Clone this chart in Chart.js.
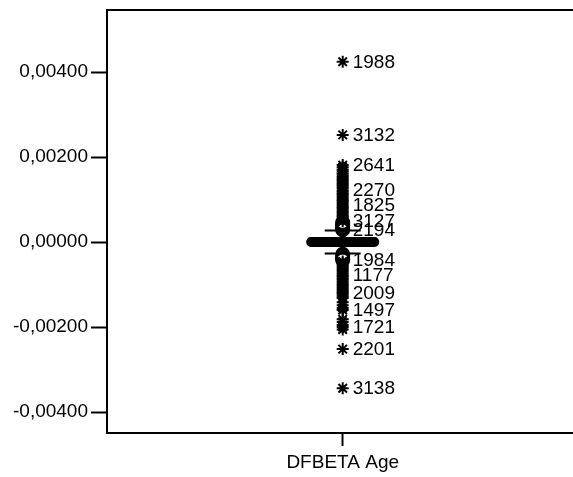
<!DOCTYPE html>
<html>
<head>
<meta charset="utf-8">
<script src="https://cdn.jsdelivr.net/npm/chart.js@4/dist/chart.umd.min.js"></script>
<style>
html,body{margin:0;padding:0;background:#fff;overflow:hidden;width:573px;height:477px;}
canvas{display:block;}
</style>
</head>
<body>
<canvas id="c" width="581" height="477"></canvas>
<script>
// ---- data ----
const categories = ['DFBETA Age'];
const quartiles = [-0.00001, 0, 0.00001];   // Q1, median, Q3
const whiskers = [-0.00027, 0.00027];       // lower, upper whisker ends
const outlierValues = [0.00046, 0.00042, 0.00039, 0.00035, 0.00031, 0.00029,
  -0.00029, -0.00032, -0.00036, -0.00040, -0.00042];
const extremeValues = [0.00424, 0.00252, 0.00181, 0.00176, 0.00170, 0.00166, 0.00161,
  0.00157, 0.00153, 0.00149, 0.00146, 0.00142, 0.00138, 0.00135, 0.00131, 0.00127,
  0.00122, 0.00118, 0.00114, 0.00111, 0.00107, 0.00103, 0.00099, 0.00096, 0.00092,
  0.00087, 0.00083, 0.00080, 0.00076, 0.00072, 0.00069, 0.00065, 0.00061, 0.00058,
  0.00054, 0.00049,
  -0.00046, -0.00050, -0.00054, -0.00058, -0.00062, -0.00066, -0.00070, -0.00074,
  -0.00078, -0.00081, -0.00085, -0.00089, -0.00093, -0.00097, -0.00101, -0.00105,
  -0.00109, -0.00113, -0.00117, -0.00120, -0.00124, -0.00128, -0.00132, -0.00142,
  -0.00149, -0.00155, -0.00160, -0.00182, -0.00188, -0.00195, -0.00200, -0.00206,
  -0.00252, -0.00344];
const labelIds = ['1988', '3132', '2641', '2270', '1825', '3127', '2194', '1984',
  '1177', '2009', '1497', '1721', '2201', '3138'];
const labelValues = [0.00424, 0.00252, 0.00181, 0.00122, 0.00087, 0.00049, 0.00029,
  -0.00042, -0.00078, -0.00120, -0.00160, -0.00200, -0.00252, -0.00344];
const yTickValues = [-0.004, -0.002, 0, 0.002, 0.004];
const yTickLabels = ['-0,00400', '-0,00200', '0,00000', '0,00200', '0,00400'];

// ---- layout constants (not data) ----
const X_MIN = -1, X_MAX = 0.975, PLOT_W = 466;
const pxToX = px => px / PLOT_W * (X_MAX - X_MIN);
const boxHalf = pxToX(32);
const capHalf = pxToX(18);
const FONT = "'Liberation Sans', Arial, sans-serif";

const [q1, med, q3] = quartiles;
const datasets = [
  { // box + median (very thin box drawn as thick bar)
    type: 'line',
    data: [{x: -boxHalf, y: q1}, {x: boxHalf, y: q1}, {x: boxHalf, y: q3}, {x: -boxHalf, y: q3}, {x: -boxHalf, y: q1}],
    borderColor: '#000', backgroundColor: '#000', borderWidth: 9,
    borderCapStyle: 'round', borderJoinStyle: 'round', pointRadius: 0, fill: false
  },
  { type: 'line', data: [{x: -boxHalf, y: med}, {x: boxHalf, y: med}],
    borderColor: '#000', borderWidth: 3, pointRadius: 0 },
  { // whisker stem
    type: 'line', data: [{x: 0, y: whiskers[0]}, {x: 0, y: whiskers[1]}],
    borderColor: '#000', borderWidth: 2, pointRadius: 0 },
  { type: 'line', data: [{x: -capHalf, y: whiskers[1]}, {x: capHalf, y: whiskers[1]}],
    borderColor: '#000', borderWidth: 2, pointRadius: 0 },
  { type: 'line', data: [{x: -capHalf, y: whiskers[0]}, {x: capHalf, y: whiskers[0]}],
    borderColor: '#000', borderWidth: 2, pointRadius: 0 },
  { type: 'scatter', data: outlierValues.map(v => ({x: 0, y: v})),
    pointStyle: 'circle', pointRadius: 6.5, pointBorderWidth: 2,
    pointBorderColor: '#000', pointBackgroundColor: 'rgba(0,0,0,0)' },
  { type: 'scatter', data: extremeValues.map(v => ({x: 0, y: v})),
    pointStyle: 'star', pointRadius: 6, pointBorderWidth: 2,
    pointBorderColor: '#000', pointBackgroundColor: '#000' }
];

const labelPlugin = {
  id: 'caseLabels',
  afterDatasetsDraw(chart) {
    const ctx = chart.ctx, xs = chart.scales.x, ys = chart.scales.y;
    ctx.save();
    ctx.fillStyle = '#000';
    ctx.font = '19px ' + FONT;
    ctx.textAlign = 'left';
    ctx.textBaseline = 'middle';
    const x0 = xs.getPixelForValue(0) + 10;
    labelIds.forEach((id, i) => {
      ctx.fillText(id, x0, ys.getPixelForValue(labelValues[i]) + 1);
    });
    ctx.restore();
  }
};

const noPad = s => { s.paddingTop = 0; s.paddingBottom = 0; s.paddingLeft = 0; s.paddingRight = 0; };

new Chart(document.getElementById('c'), {
  type: 'scatter',
  data: { datasets },
  plugins: [labelPlugin],
  options: {
    responsive: false,
    animation: false,
    events: [],
    layout: { padding: { top: 10, left: 0, right: 0, bottom: 0 } },
    plugins: { legend: { display: false }, tooltip: { enabled: false } },
    scales: {
      x: {
        type: 'linear', position: 'bottom', min: X_MIN, max: X_MAX,
        afterBuildTicks: s => { s.ticks = [{value: 0}]; },
        afterFit: s => { s.height = 44; noPad(s); },
        ticks: { callback: () => categories[0], color: '#000', padding: 5,
                 font: { size: 19, family: FONT }, maxRotation: 0, autoSkip: false },
        grid: { drawOnChartArea: false, drawTicks: true, tickLength: 13,
                tickWidth: 2, tickColor: '#000' },
        border: { display: true, color: '#000', width: 2 }
      },
      xTop: {
        type: 'linear', position: 'top', min: X_MIN, max: X_MAX,
        afterFit: s => { s.height = 0; noPad(s); },
        ticks: { display: false },
        grid: { display: false },
        border: { display: true, color: '#000', width: 2 }
      },
      y: {
        type: 'linear', min: -0.004494, max: 0.005459,
        afterBuildTicks: s => { s.ticks = yTickValues.map(v => ({value: v})); },
        afterFit: s => { s.width = 107; noPad(s); },
        ticks: { callback: (v) => yTickLabels[yTickValues.indexOf(v)],
                 color: '#000', padding: 3, font: { size: 19, family: FONT } },
        grid: { drawOnChartArea: false, drawTicks: true, tickLength: 16,
                tickWidth: 2, tickColor: '#000' },
        border: { display: true, color: '#000', width: 2 }
      }
    }
  }
});
</script>
</body>
</html>
